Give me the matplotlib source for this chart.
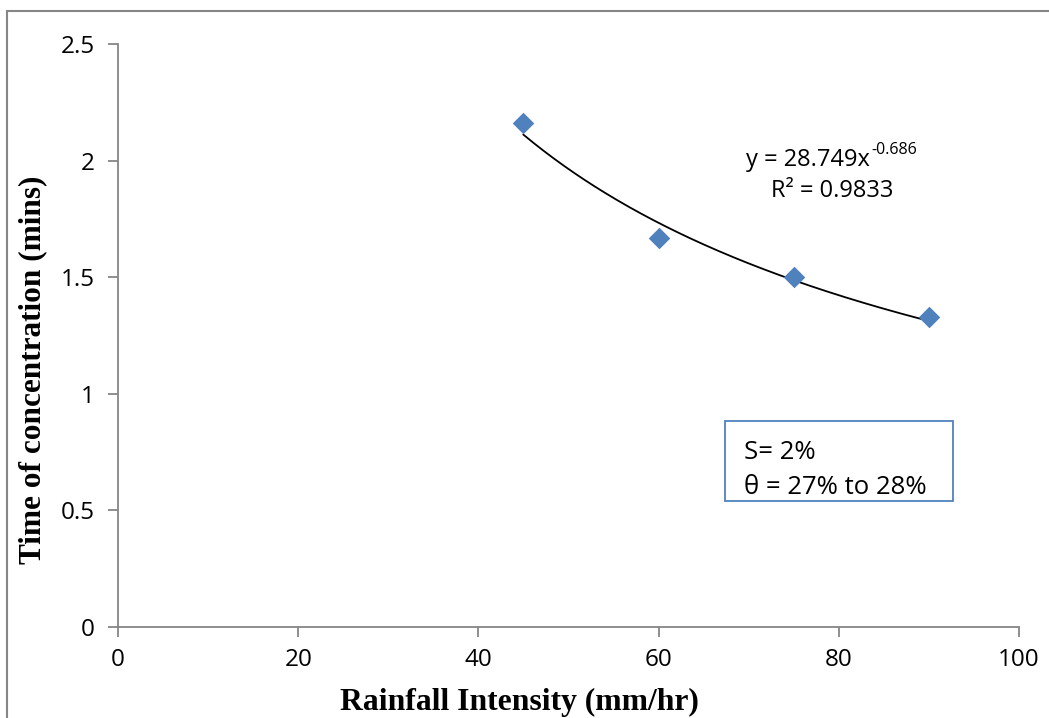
import matplotlib
matplotlib.use("Agg")
import matplotlib.pyplot as plt
import numpy as np
from matplotlib.patches import Rectangle

# data
intensity = [45, 60, 75, 90]
tc_mins = [2.16, 1.67, 1.50, 1.33]
fit_a = 28.749
fit_b = -0.686
x_ticks = [0, 20, 40, 60, 80, 100]
y_ticks = [0, 0.5, 1, 1.5, 2, 2.5]
y_tick_labels = ["0", "0.5", "1", "1.5", "2", "2.5"]

plt.rcParams["font.family"] = ["Open Sans", "DejaVu Sans"]

W, H = 1049, 718
fig = plt.figure(figsize=(W / 100, H / 100), dpi=100)
ax = fig.add_axes([118 / W, 1 - 627 / H, (1019 - 118) / W, (627 - 44) / H])


def px(x, y):
    # pixel position (from top-left) -> figure fraction
    return x / W, 1 - y / H


grey = "#868686"
blue = "#4F81BD"

# trendline
xf = np.linspace(intensity[0], intensity[-1], 200)
ax.plot(xf, fit_a * xf ** fit_b, color="black", lw=1.3, zorder=2)
ax.scatter(intensity, tc_mins, marker="D", s=120, color=blue, zorder=3, linewidths=0)

ax.set_xlim(0, 100)
ax.set_ylim(0, 2.5)
ax.set_xticks(x_ticks)
ax.set_yticks(y_ticks)
ax.set_yticklabels(y_tick_labels)
for s in ["top", "right"]:
    ax.spines[s].set_visible(False)
for s in ["left", "bottom"]:
    ax.spines[s].set_color(grey)
    ax.spines[s].set_linewidth(1.3)
ax.tick_params(axis="both", colors=grey, labelcolor="black", labelsize=17.5,
               length=7, width=1.3, direction="out")
ax.tick_params(axis="x", pad=8)
ax.tick_params(axis="y", pad=10)

# trendline equation
fig.text(*px(870, 160), "y = 28.749x", fontsize=17, ha="right", va="center")
fig.text(*px(871, 150), "-0.686", fontsize=11.5, ha="left", va="center")
fig.text(*px(832, 191), "R² = 0.9833", fontsize=17, ha="center", va="center")

# annotation box
fig.patches.append(Rectangle(px(725, 501), 228 / W, 80 / H,
                             transform=fig.transFigure, fill=False,
                             edgecolor=blue, lw=1.3))
fig.text(*px(744, 452), "S= 2%", fontsize=18.5, va="center")
fig.text(*px(744, 487), "θ = 27% to 28%", fontsize=18.5, va="center")

# axis titles
fig.text(*px(519, 702), "Rainfall Intensity (mm/hr)", family="Liberation Serif",
         weight="bold", fontsize=22.8, ha="center", va="center")
fig.text(*px(33, 370), "Time of concentration (mins)", family="Liberation Serif",
         weight="bold", fontsize=22.5, ha="center", va="center", rotation=90)

# outer chart border
fig.patches.append(Rectangle((7 / W, -0.05), 1.1, 1 - 11 / H + 0.05,
                             transform=fig.transFigure, fill=False,
                             edgecolor=grey, lw=1.5))

fig.savefig("out.png", dpi=100)
